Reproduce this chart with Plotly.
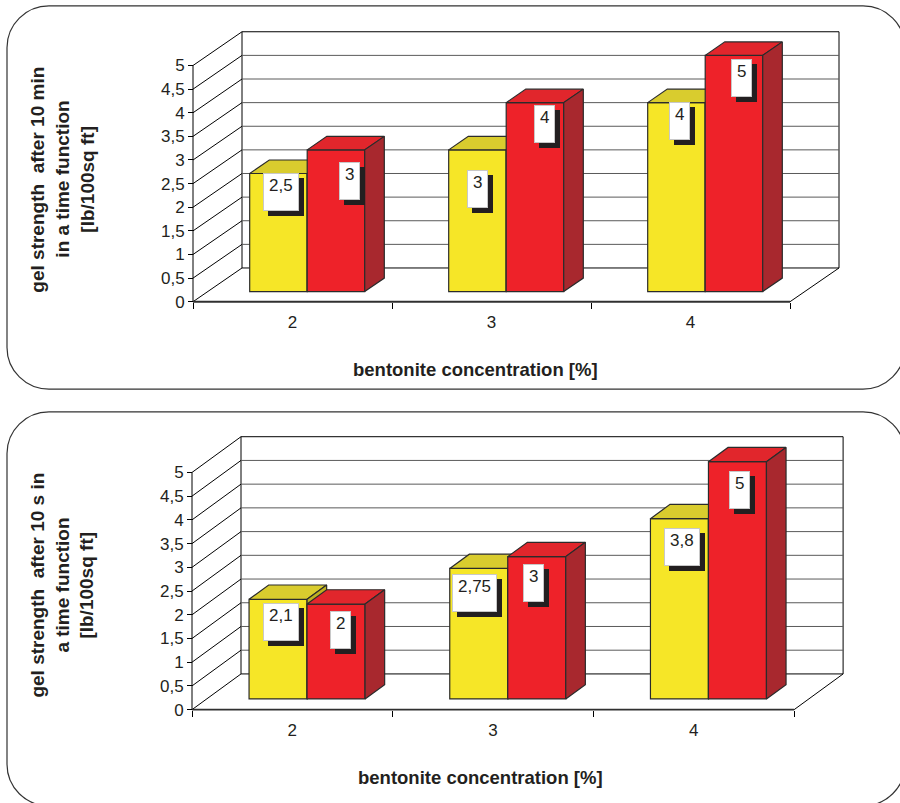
import plotly.graph_objects as go

W, H = 900, 803
FONT = "Liberation Sans, Arial, Helvetica, sans-serif"
TEXT = "#231F20"

# ---- data -------------------------------------------------------------
categories = ["2", "3", "4"]
tick_values = [0, 0.5, 1, 1.5, 2, 2.5, 3, 3.5, 4, 4.5, 5]
tick_labels = ["0", "0,5", "1", "1,5", "2", "2,5", "3", "3,5", "4", "4,5", "5"]

gel_10min_series1 = [2.5, 3, 4]
gel_10min_series2 = [3, 4, 5]
gel_10s_series1 = [2.1, 2.75, 3.8]
gel_10s_series2 = [2, 3, 5]

x_title = "bentonite concentration [%]"
y_title_10min = ["gel strength  after 10 min", "in a time function", "[lb/100sq ft]"]
y_title_10s = ["gel strength  after 10 s in", "a time function", "[lb/100sq ft]"]

# ---- style ------------------------------------------------------------
YELLOW = dict(front="#F6E627", top="#D9CC2E", side="#BDB021")
RED = dict(front="#EE2229", top="#E1262C", side="#A8282E")
EDGE = "#2B2B2B"
GRID = "#5A5A5A"
F1, F2 = 0.3, 0.7          # bar depth span inside the floor
BAR_FRAC = 0.289           # bar width as fraction of a category
TICK_SIZE = 17
LABEL_SIZE = 17
TITLE_SIZE = 18.5

panels = [
    dict(s1=gel_10min_series1, s2=gel_10min_series2, ytitle=y_title_10min,
         front_left=193, front_bottom=304, unit_px=47.6, cat_px=199,
         depth_dx=49, depth_dy=34,
         title_x=[38, 63, 88], title_y=181, xtitle_pos=(476, 372),
         box=(7, 6, 905, 392),
         nudge1=[(3, 0), (0, 20), (3, -1)], nudge2=[(14, 12), (10, 2), (8, 4)]),
    dict(s1=gel_10s_series1, s2=gel_10s_series2, ytitle=y_title_10s,
         front_left=192, front_bottom=715, unit_px=47.8, cat_px=200.7,
         depth_dx=49, depth_dy=36,
         title_x=[38, 63, 87], title_y=590, xtitle_pos=(480, 783),
         box=(7, 415, 905, 812),
         nudge1=[(3, 4), (-4, 6), (3, 9)], nudge2=[(4, 7), (-3, 7), (2, 9)]),
]


def fmt(v):
    return f"{v:g}".replace(".", ",")


def text_px(s):
    return sum(0.556 * LABEL_SIZE if c.isdigit() else 0.278 * LABEL_SIZE for c in s)


def px_x(px):
    return px / W


def px_y(py):
    return 1 - py / H


def rounded_box(x0, y0, x1, y1, r):
    k = 0.5523 * r
    X, Y = px_x, px_y
    return (
        f"M {X(x0 + r)},{Y(y0)} L {X(x1 - r)},{Y(y0)} "
        f"C {X(x1 - r + k)},{Y(y0)} {X(x1)},{Y(y0 + r - k)} {X(x1)},{Y(y0 + r)} "
        f"L {X(x1)},{Y(y1 - r)} "
        f"C {X(x1)},{Y(y1 - r + k)} {X(x1 - r + k)},{Y(y1)} {X(x1 - r)},{Y(y1)} "
        f"L {X(x0 + r)},{Y(y1)} "
        f"C {X(x0 + r - k)},{Y(y1)} {X(x0)},{Y(y1 - r + k)} {X(x0)},{Y(y1 - r)} "
        f"L {X(x0)},{Y(y0 + r)} "
        f"C {X(x0)},{Y(y0 + r - k)} {X(x0 + r - k)},{Y(y0)} {X(x0 + r)},{Y(y0)} Z"
    )


fig = go.Figure()
annotations = []
shapes = []
layout_axes = {}
n = len(categories)
vmax = max(tick_values)

for k, p in enumerate(panels):
    sfx = "" if k == 0 else str(k + 1)
    xa, ya = "x" + sfx, "y" + sfx
    DX = p["depth_dx"] / p["cat_px"]
    DY = p["depth_dy"] / p["unit_px"]
    BW = BAR_FRAC
    pad_x = 4 / p["cat_px"]
    pad_y = 4 / p["unit_px"]

    # walls, floor and gridlines
    bx, by = [], []

    def seg(a, b, lx=bx, ly=by):
        lx.extend([a[0], b[0], None])
        ly.extend([a[1], b[1], None])

    seg((0, 0), (0, vmax))
    for v in tick_values:
        seg((0, v), (DX, DY + v))
    seg((DX, DY), (DX, DY + vmax))
    seg((DX, DY + vmax), (n + DX, DY + vmax))
    seg((n + DX, DY), (n + DX, DY + vmax))
    seg((DX, DY), (n + DX, DY))
    seg((n, 0), (n + DX, DY))
    fig.add_trace(go.Scatter(x=bx, y=by, mode="lines", xaxis=xa, yaxis=ya,
                             line=dict(color="black", width=1),
                             hoverinfo="skip", showlegend=False, zorder=0))
    gx, gy = [], []
    for v in tick_values[1:-1]:
        seg((DX, DY + v), (n + DX, DY + v), gx, gy)
    fig.add_trace(go.Scatter(x=gx, y=gy, mode="lines", xaxis=xa, yaxis=ya,
                             line=dict(color=GRID, width=1),
                             hoverinfo="skip", showlegend=False, zorder=0))
    fig.add_trace(go.Scatter(x=[0, n], y=[0, 0], mode="lines", xaxis=xa, yaxis=ya,
                             line=dict(color="#303030", width=1.8),
                             hoverinfo="skip", showlegend=False, zorder=0))

    # bars: front face as bar trace, top and side faces as filled polygons
    base = F1 * DY
    d = F2 - F1
    for s_idx, (vals, col, nud) in enumerate(
            [(p["s1"], YELLOW, p["nudge1"]), (p["s2"], RED, p["nudge2"])]):
        offset = (s_idx - 0.5) * BW
        xs = [i + 0.5 + F1 * DX + offset for i in range(n)]
        fig.add_trace(go.Bar(
            x=xs, y=vals, base=base, width=BW, xaxis=xa, yaxis=ya,
            name=f"series {s_idx + 1}",
            marker=dict(color=col["front"], line=dict(color=EDGE, width=1.2)),
            showlegend=False, hoverinfo="skip", zorder=1 + s_idx))
        tx, ty, sx, sy = [], [], [], []
        for xc, v in zip(xs, vals):
            xl, xr, yt = xc - BW / 2, xc + BW / 2, base + v
            tx += [xl, xl + d * DX, xr + d * DX, xr, xl, None]
            ty += [yt, yt + d * DY, yt + d * DY, yt, yt, None]
            sx += [xr, xr + d * DX, xr + d * DX, xr, xr, None]
            sy += [base, base + d * DY, yt + d * DY, yt, base, None]
        fig.add_trace(go.Scatter(x=tx, y=ty, mode="lines", fill="toself",
                                 fillcolor=col["top"], xaxis=xa, yaxis=ya,
                                 line=dict(color=EDGE, width=1.2),
                                 hoverinfo="skip", showlegend=False, zorder=1 + s_idx))
        fig.add_trace(go.Scatter(x=sx, y=sy, mode="lines", fill="toself",
                                 fillcolor=col["side"], xaxis=xa, yaxis=ya,
                                 line=dict(color=EDGE, width=1.2),
                                 hoverinfo="skip", showlegend=False, zorder=1 + s_idx))

        # value labels: white box with a dark drop shadow
        for xc, v, (nx, ny) in zip(xs, vals, nud):
            label = fmt(v)
            w = text_px(label) + 6
            common = dict(xref=xa, yref=ya, x=xc, y=base + v, xanchor="center",
                          yanchor="top", showarrow=False, width=w, height=32,
                          borderpad=2, borderwidth=1, valign="top", align="center")
            annotations.append(dict(common, text=" ", bgcolor=TEXT, bordercolor=TEXT,
                                    xshift=nx + 5, yshift=-(ny + 5)))
            annotations.append(dict(common, text=label, bgcolor="white",
                                    bordercolor="#C8C8C8", xshift=nx, yshift=-ny,
                                    font=dict(family=FONT, size=LABEL_SIZE, color=TEXT)))

    # axes
    x_left = p["front_left"] - 4
    x_right = p["front_left"] + p["cat_px"] * (n + DX) + 4
    y_bottom = p["front_bottom"] + 4
    y_top = p["front_bottom"] - p["unit_px"] * (vmax + DY) - 4
    layout_axes["xaxis" + sfx] = dict(
        domain=[px_x(x_left), px_x(x_right)], range=[-pad_x, n + DX + pad_x],
        anchor="free", position=px_y(p["front_bottom"]),
        tickmode="array", tickvals=[i + 0.5 for i in range(n)], ticktext=categories,
        ticks="outside", ticklen=5, tickcolor="rgba(0,0,0,0)",
        minor=dict(tickmode="array", tickvals=list(range(n + 1)), ticks="outside",
                   ticklen=6, tickcolor="black", tickwidth=1),
        tickfont=dict(family=FONT, size=TICK_SIZE, color=TEXT),
        showline=False, showgrid=False, zeroline=False, fixedrange=True)
    layout_axes["yaxis" + sfx] = dict(
        domain=[px_y(y_bottom), px_y(y_top)], range=[-pad_y, vmax + DY + pad_y],
        anchor="free", position=px_x(p["front_left"]),
        tickmode="array", tickvals=tick_values, ticktext=tick_labels,
        ticks="outside", ticklen=5, tickcolor="black", tickwidth=1,
        tickfont=dict(family=FONT, size=TICK_SIZE, color=TEXT),
        showline=False, showgrid=False, zeroline=False, fixedrange=True)

    # titles
    for line, tx_px in zip(p["ytitle"], p["title_x"]):
        annotations.append(dict(xref="paper", yref="paper", x=px_x(tx_px),
                                y=px_y(p["title_y"]), text=f"<b>{line}</b>",
                                textangle=-90, showarrow=False,
                                xanchor="center", yanchor="middle",
                                font=dict(family=FONT, size=TITLE_SIZE + 0.5, color=TEXT)))
    annotations.append(dict(xref="paper", yref="paper", x=px_x(p["xtitle_pos"][0]),
                            y=px_y(p["xtitle_pos"][1]), text=f"<b>{x_title}</b>",
                            showarrow=False, xanchor="center", yanchor="middle",
                            font=dict(family=FONT, size=TITLE_SIZE, color=TEXT)))

    shapes.append(dict(type="path", xref="paper", yref="paper",
                       path=rounded_box(*p["box"], 42),
                       line=dict(color="#333333", width=1.2)))

fig.update_layout(
    width=W, height=H, margin=dict(l=0, r=0, t=0, b=0),
    paper_bgcolor="white", plot_bgcolor="rgba(0,0,0,0)",
    barmode="overlay", showlegend=False,
    annotations=annotations, shapes=shapes,
    font=dict(family=FONT, color=TEXT),
    **layout_axes,
)

fig.write_html("out.html")
